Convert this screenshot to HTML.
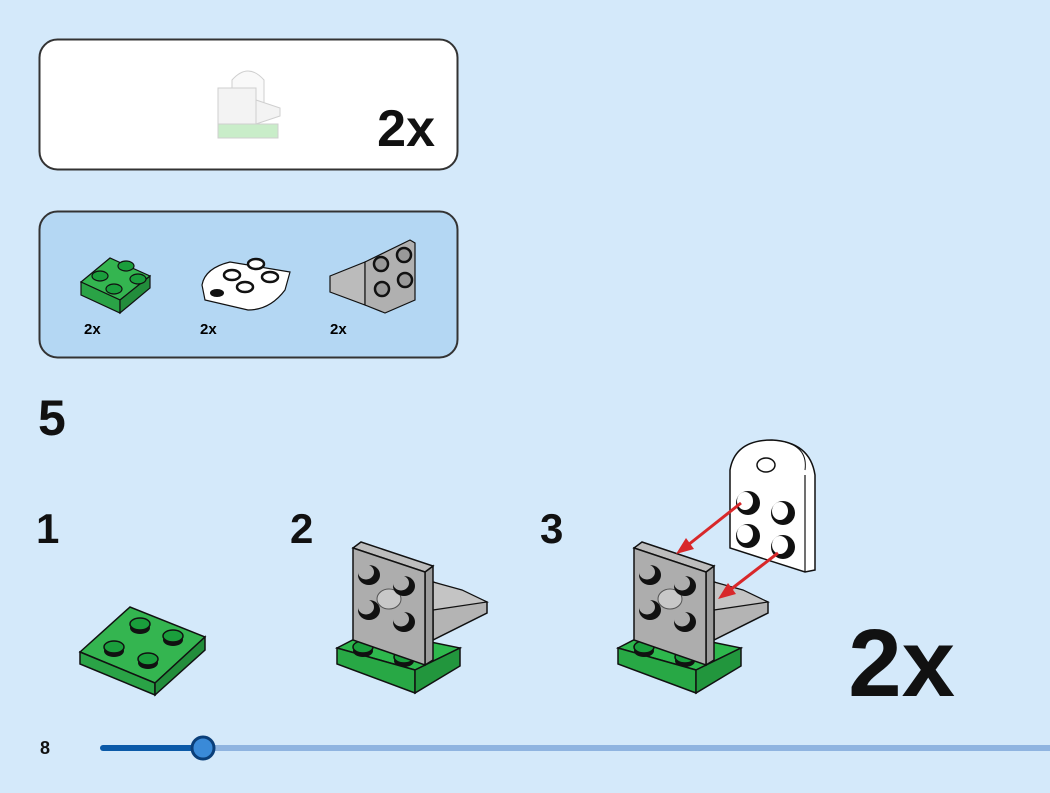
<!DOCTYPE html>
<html><head><meta charset="utf-8"><style>
html,body{margin:0;padding:0;background:#d4e9fa;}
body{width:1050px;height:793px;overflow:hidden;position:relative;font-family:"Liberation Sans",sans-serif;}
svg{position:absolute;left:0;top:0;}
</style></head><body>
<svg width="1050" height="793" viewBox="0 0 1050 793" font-family="Liberation Sans, sans-serif">
<defs>
<g id="gstud">
  <ellipse cx="0" cy="3" rx="10" ry="6" fill="#111"/>
  <ellipse cx="0" cy="-1" rx="10" ry="6" fill="#1a9e3c" stroke="#111" stroke-width="1.5"/>
</g>
<g id="wstud">
  <ellipse cx="1" cy="1" rx="11" ry="10" fill="#111"/>
  <ellipse cx="-2" cy="-2" rx="8" ry="7.5" fill="#adadad"/>
</g>
<g id="wall">
  <polygon points="337,648 372,630 460,648 415,670" fill="#2eb84d" stroke="#111" stroke-width="1.5"/>
  <polygon points="337,648 415,670 415,693 337,664" fill="#28a845" stroke="#111" stroke-width="1.5"/>
  <polygon points="415,670 460,648 460,666 415,693" fill="#22963d" stroke="#111" stroke-width="1.5"/>
  <use href="#gstud" x="363" y="648"/>
  <use href="#gstud" x="404" y="658"/>
  <polygon points="433,582 462,592 487,602 487,613 433,640" fill="#b4b4b4" stroke="#111" stroke-width="1.5"/>
  <polygon points="433,582 462,590 487,602 433,610" fill="#c4c4c4" stroke="#111" stroke-width="1.2"/>
  <polygon points="425,572 433,566 433,660 425,665" fill="#9c9c9c" stroke="#111" stroke-width="1.5"/>
  <polygon points="353,548 361,542 433,566 425,572" fill="#bdbdbd" stroke="#111" stroke-width="1.5"/>
  <polygon points="353,548 425,572 425,665 353,640" fill="#adadad" stroke="#111" stroke-width="1.5"/>
  <ellipse cx="389" cy="599" rx="12" ry="10" fill="#c8c8c8" stroke="#555" stroke-width="1"/>
  <use href="#wstud" x="368" y="574"/>
  <use href="#wstud" x="403" y="585"/>
  <use href="#wstud" x="368" y="609"/>
  <use href="#wstud" x="403" y="621"/>
</g>
</defs>

<rect x="39.5" y="39.5" width="418" height="130" rx="18" fill="#fff" stroke="#333" stroke-width="2"/>
<g opacity="0.35">
  <path d="M232,118 L232,80 Q248,62 264,80 L264,118 Z" fill="#eee" stroke="#777"/>
  <rect x="218" y="88" width="38" height="40" fill="#ddd" stroke="#777"/>
  <polygon points="256,100 280,108 280,116 256,124" fill="#ddd" stroke="#777"/>
  <rect x="218" y="124" width="60" height="14" fill="#6c6" stroke="#777"/>
</g>
<text x="435" y="146" font-size="52" font-weight="bold" text-anchor="end" fill="#111">2x</text>

<rect x="39.5" y="211.5" width="418" height="146" rx="18" fill="#b4d7f3" stroke="#333" stroke-width="2"/>
<polygon points="81,282 110,258 150,276 120,300" fill="#34b550" stroke="#111" stroke-width="1.2"/>
<polygon points="81,282 120,300 120,313 81,295" fill="#2aa346" stroke="#111" stroke-width="1.2"/>
<polygon points="120,300 150,276 150,288 120,313" fill="#228d3b" stroke="#111" stroke-width="1.2"/>
<g fill="#1a9e3c" stroke="#111" stroke-width="1.2">
<ellipse cx="100" cy="276" rx="8" ry="5"/><ellipse cx="126" cy="266" rx="8" ry="5"/>
<ellipse cx="114" cy="289" rx="8" ry="5"/><ellipse cx="138" cy="279" rx="8" ry="5"/>
</g>
<text x="84" y="334" font-size="15" font-weight="bold">2x</text>
<path d="M202,285 Q205,268 230,262 L290,272 L285,290 Q270,310 248,310 L205,300 Z" fill="#fff" stroke="#111" stroke-width="1.2"/>
<ellipse cx="217" cy="293" rx="7" ry="4" fill="#111"/>
<g fill="#fff" stroke="#111" stroke-width="2.5">
<ellipse cx="232" cy="275" rx="8" ry="5"/><ellipse cx="256" cy="264" rx="8" ry="5"/>
<ellipse cx="245" cy="287" rx="8" ry="5"/><ellipse cx="270" cy="277" rx="8" ry="5"/>
</g>
<text x="200" y="334" font-size="15" font-weight="bold">2x</text>
<polygon points="330,276 365,262 365,305 330,292" fill="#bbb" stroke="#111" stroke-width="1.2"/>
<polygon points="365,262 410,240 415,243 415,300 385,313 365,305" fill="#b0b0b0" stroke="#111" stroke-width="1.2"/>
<g fill="#999" stroke="#111" stroke-width="2.5">
<ellipse cx="381" cy="264" rx="7" ry="7"/><ellipse cx="404" cy="255" rx="7" ry="7"/>
<ellipse cx="382" cy="289" rx="7" ry="7"/><ellipse cx="405" cy="280" rx="7" ry="7"/>
</g>
<text x="330" y="334" font-size="15" font-weight="bold">2x</text>

<text x="38" y="435" font-size="50" font-weight="bold" fill="#111">5</text>
<text x="36" y="543" font-size="42" font-weight="bold" fill="#111">1</text>
<text x="290" y="543" font-size="42" font-weight="bold" fill="#111">2</text>
<text x="540" y="543" font-size="42" font-weight="bold" fill="#111">3</text>

<polygon points="80,652 130,607 205,637 155,683" fill="#34b550" stroke="#111" stroke-width="1.5"/>
<polygon points="80,652 155,683 155,695 80,664" fill="#2aa346" stroke="#111" stroke-width="1.5"/>
<polygon points="155,683 205,637 205,650 155,695" fill="#228d3b" stroke="#111" stroke-width="1.5"/>
<use href="#gstud" x="114" y="648"/>
<use href="#gstud" x="140" y="625"/>
<use href="#gstud" x="148" y="660"/>
<use href="#gstud" x="173" y="637"/>

<use href="#wall"/>
<use href="#wall" x="281"/>
<path d="M730,545 L730,470 Q735,440 772,440 Q810,442 815,475 L815,570 L805,572 L730,548 Z" fill="#fff" stroke="#111" stroke-width="1.5"/>
<path d="M805,470 Q808,448 785,442" fill="none" stroke="#111"/>
<line x1="805" y1="475" x2="805" y2="572" stroke="#111" stroke-width="1.2"/>
<ellipse cx="766" cy="465" rx="9" ry="7" fill="#fff" stroke="#111" stroke-width="1.5"/>
<g>
<ellipse cx="748" cy="503" rx="12" ry="12" fill="#111"/><ellipse cx="745" cy="501" rx="8" ry="9" fill="#fff"/>
<ellipse cx="783" cy="513" rx="12" ry="12" fill="#111"/><ellipse cx="780" cy="511" rx="8" ry="9" fill="#fff"/>
<ellipse cx="748" cy="536" rx="12" ry="12" fill="#111"/><ellipse cx="745" cy="534" rx="8" ry="9" fill="#fff"/>
<ellipse cx="783" cy="547" rx="12" ry="12" fill="#111"/><ellipse cx="780" cy="545" rx="8" ry="9" fill="#fff"/>
</g>
<g stroke="#d8282a" stroke-width="3" fill="#d8282a">
<line x1="741" y1="503" x2="688" y2="545"/>
<polygon points="676,554 686,538 694,549" stroke="none"/>
<line x1="778" y1="553" x2="730" y2="590"/>
<polygon points="718,599 728,583 736,594" stroke="none"/>
</g>

<text x="955" y="696" font-size="96" font-weight="bold" text-anchor="end" fill="#111">2x</text>

<text x="40" y="754" font-size="18" font-weight="bold" fill="#111">8</text>
<line x1="203" y1="748" x2="1050" y2="748" stroke="#8fb4e0" stroke-width="6"/>
<line x1="103" y1="748" x2="203" y2="748" stroke="#0b5aa8" stroke-width="6" stroke-linecap="round"/>
<circle cx="203" cy="748" r="11" fill="#3a8ad8" stroke="#0a3f7a" stroke-width="3"/>
</svg>
</body></html>
